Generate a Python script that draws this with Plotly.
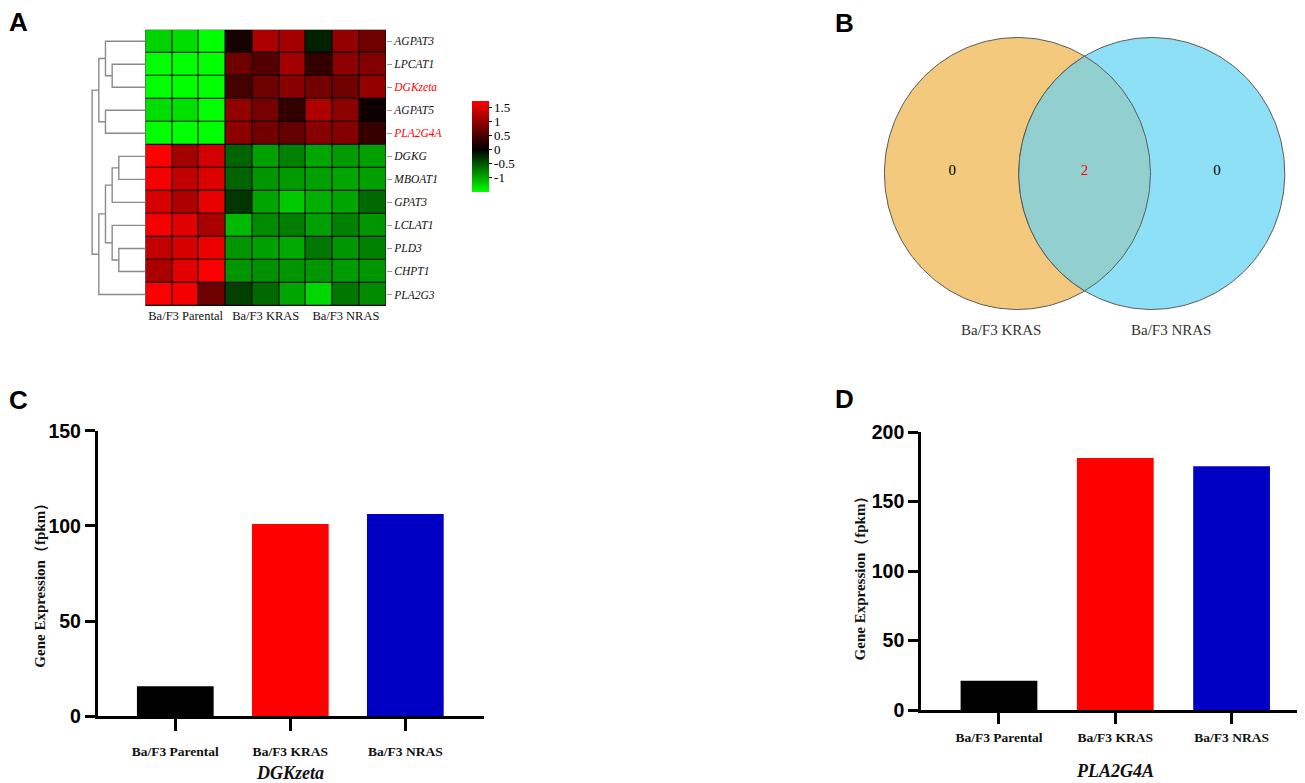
import numpy as np
import plotly.graph_objects as go

# ---------------- DATA ----------------
genes = ["AGPAT3", "LPCAT1", "DGKzeta", "AGPAT5", "PLA2G4A", "DGKG",
         "MBOAT1", "GPAT3", "LCLAT1", "PLD3", "CHPT1", "PLA2G3"]
highlight_genes = ["DGKzeta", "PLA2G4A"]
groups = ["Ba/F3 Parental", "Ba/F3 KRAS", "Ba/F3 NRAS"]
samples = ["P1", "P2", "P3", "K1", "K2", "K3", "N1", "N2", "N3"]

# z-scored expression (rows = genes, cols = samples)
z_AGPAT3 = [-1.24, -1.30, -1.50, 0.15, 1.15, 1.12, -0.20, 1.00, 0.75]
z_LPCAT1 = [-1.50, -1.50, -1.50, 0.75, 0.58, 1.12, 0.34, 0.95, 0.88]
z_DGKzeta = [-1.50, -1.50, -1.50, 0.47, 0.75, 0.92, 0.80, 0.75, 1.00]
z_AGPAT5 = [-1.30, -1.32, -1.50, 1.00, 0.80, 0.33, 1.19, 0.95, 0.10]
z_PLA2G4A = [-1.50, -1.50, -1.50, 0.95, 0.78, 0.68, 0.92, 0.88, 0.37]
z_DGKG = [1.73, 1.12, 1.43, -0.59, -0.94, -0.76, -0.97, -0.91, -0.94]
z_MBOAT1 = [1.66, 1.32, 1.49, -0.59, -0.88, -0.91, -0.94, -0.97, -0.94]
z_GPAT3 = [1.46, 1.19, 1.56, -0.32, -0.97, -1.18, -1.03, -0.97, -0.62]
z_LCLAT1 = [1.66, 1.53, 1.15, -1.09, -0.82, -0.74, -0.94, -0.76, -0.88]
z_PLD3 = [1.32, 1.46, 1.60, -0.88, -0.94, -1.00, -0.70, -0.88, -0.76]
z_CHPT1 = [1.15, 1.53, 1.70, -0.88, -0.85, -0.88, -0.88, -0.91, -0.88]
z_PLA2G3 = [1.70, 1.66, 0.75, -0.38, -0.62, -0.97, -1.26, -0.70, -0.82]
z_matrix = [z_AGPAT3, z_LPCAT1, z_DGKzeta, z_AGPAT5, z_PLA2G4A, z_DGKG,
            z_MBOAT1, z_GPAT3, z_LCLAT1, z_PLD3, z_CHPT1, z_PLA2G3]

# hierarchical clustering of rows: (child a, child b, height); leaves 0..11
linkage = [(1, 2, 5), (0, 12, 6), (3, 4, 6), (13, 14, 7),
           (5, 6, 4), (16, 7, 5), (9, 10, 4), (8, 18, 5),
           (17, 19, 6), (20, 11, 7), (15, 21, 8)]

colorbar_ticks = [-1, -0.5, 0, 0.5, 1, 1.5]
z_min, z_max = -1.5, 1.73

venn_sets = ["Ba/F3 KRAS", "Ba/F3 NRAS"]
venn_counts = [0, 2, 0]  # KRAS only, both, NRAS only

bar_groups = ["Ba/F3 Parental", "Ba/F3 KRAS", "Ba/F3 NRAS"]
dgkzeta_fpkm = [15.8, 101.0, 106.3]
pla2g4a_fpkm = [21.1, 181.3, 175.3]
dgkzeta_yticks = [0, 50, 100, 150]
pla2g4a_yticks = [0, 50, 100, 150, 200]

# ---------------- LAYOUT HELPERS ----------------
W, H = 1305, 783
def PX(x):
    return x / W
def PY(y):
    return 1 - y / H

SERIF = "Liberation Serif"
SANS = "Liberation Sans"

fig = go.Figure()

# ---------------- A: heatmap ----------------
n_rows, n_cols = len(genes), len(samples)
fig.add_trace(go.Heatmap(
    z=z_matrix, x=list(range(n_cols)), y=list(range(n_rows)),
    zmin=z_min, zmax=z_max,
    colorscale=[[0, "#00FF00"], [(0 - z_min) / (z_max - z_min), "#000000"], [1, "#FF0000"]],
    xgap=1, ygap=1, xaxis="x", yaxis="y",
    colorbar=dict(x=PX(464.3), xanchor="left", xpad=0,
                  y=PY(138.4), yanchor="middle", ypad=0,
                  len=(184 - 92.7) / H, lenmode="fraction",
                  thickness=16.7, thicknessmode="pixels", outlinewidth=0,
                  tickvals=colorbar_ticks, ticktext=[("%g" % t) for t in colorbar_ticks],
                  ticks="outside", ticklen=3, tickcolor="#000",
                  tickfont=dict(family=SERIF, size=13, color="#000")),
    hoverinfo="skip",
))
fig.add_shape(type="rect", xref="x", yref="y", x0=-0.5, x1=n_cols - 0.5,
              y0=-0.5, y1=n_rows - 0.5, fillcolor="#000", line=dict(color="#000", width=1),
              layer="below")

# dendrogram
node_y = {i: float(i) for i in range(n_rows)}
node_h = {i: 0.0 for i in range(n_rows)}
dx, dy = [], []
for k, (a, b, h) in enumerate(linkage):
    nid = n_rows + k
    ya, yb = node_y[a], node_y[b]
    dx += [node_h[a], h, h, node_h[b], None]
    dy += [ya, ya, yb, yb, None]
    node_y[nid] = (ya + yb) / 2
    node_h[nid] = h
fig.add_trace(go.Scatter(x=dx, y=dy, mode="lines", xaxis="x2", yaxis="y",
                         line=dict(color="#8a8a8a", width=1.4), hoverinfo="skip",
                         showlegend=False))

gene_ticktext = [('<span style="color:#ff0000">%s</span>' % g) if g in highlight_genes else g
                 for g in genes]

# ---------------- B: venn ----------------
r = 1.0
d = 1.01
cl, cr = -d / 2, d / 2
t = np.linspace(0, 2 * np.pi, 241)
th0 = np.arccos((d / 2) / r)
ta = np.linspace(-th0, th0, 80)
tb = np.linspace(np.pi - th0, np.pi + th0, 80)
lens_x = np.concatenate([cl + r * np.cos(ta), cr + r * np.cos(tb)])
lens_y = np.concatenate([r * np.sin(ta), r * np.sin(tb)])
outline = dict(color="#5a5a5a", width=1)
fig.add_trace(go.Scatter(x=cl + r * np.cos(t), y=r * np.sin(t), fill="toself",
                         fillcolor="#F2C97D", line=outline, mode="lines",
                         xaxis="x3", yaxis="y3", hoverinfo="skip", showlegend=False))
fig.add_trace(go.Scatter(x=cr + r * np.cos(t), y=r * np.sin(t), fill="toself",
                         fillcolor="#8EE0F7", line=outline, mode="lines",
                         xaxis="x3", yaxis="y3", hoverinfo="skip", showlegend=False))
fig.add_trace(go.Scatter(x=lens_x, y=lens_y, fill="toself",
                         fillcolor="#92D0CF", line=outline, mode="lines",
                         xaxis="x3", yaxis="y3", hoverinfo="skip", showlegend=False))
region_x = [cl - 0.49, 0.0, cr + 0.49]
fig.add_trace(go.Scatter(x=region_x, y=[0.02, 0.02, 0.02], mode="text",
                         text=[str(c) for c in venn_counts],
                         textfont=dict(family=SERIF, size=15,
                                       color=["#000", "#ff0000", "#000"]),
                         xaxis="x3", yaxis="y3", hoverinfo="skip", showlegend=False))

annotations = []
def ann(text, x, y, font, **kw):
    d_ = dict(x=PX(x), y=PY(y), xref="paper", yref="paper", text=text, showarrow=False,
              xanchor="center", yanchor="middle", font=font)
    d_.update(kw)
    annotations.append(d_)

for name, sx in zip(venn_sets, [992.5, 1163]):
    ann(name, sx, 321.7, dict(family=SERIF, size=15, color="#333"))

# ---------------- C & D: bars ----------------
bar_colors = ["#000000", "#FF0000", "#0000C4"]
fig.add_trace(go.Bar(x=bar_groups, y=dgkzeta_fpkm, marker=dict(color=bar_colors, line=dict(width=0)),
                     width=0.667, xaxis="x4", yaxis="y4", showlegend=False, hoverinfo="skip"))
fig.add_trace(go.Bar(x=bar_groups, y=pla2g4a_fpkm, marker=dict(color=bar_colors, line=dict(width=0)),
                     width=0.66, xaxis="x5", yaxis="y5", showlegend=False, hoverinfo="skip"))

bar_x_common = dict(showline=True, linewidth=3.3, linecolor="#000", ticks="outside",
                    tickwidth=3.3, tickcolor="#000", showgrid=False, zeroline=False,
                    tickfont=dict(family=SERIF, size=13.5, color="#111", weight="bold"))
bar_y_common = dict(showline=True, linewidth=3.3, linecolor="#000", ticks="outside",
                    ticklen=10, tickwidth=3.3, tickcolor="#000", showgrid=False,
                    zeroline=False,
                    tickfont=dict(family=SANS, size=19.5, color="#000", weight="bold"))

for x, y in [(31.7, 574), (851.7, 566.7)]:
    ann("Gene Expression（fpkm）", x, y,
        dict(family=SERIF, size=15, color="#111", weight="bold"), textangle=-90)
for txt, x, y in [("DGKzeta", 282.3, 764.5), ("PLA2G4A", 1107.3, 762.7)]:
    ann(txt, x, y, dict(family=SERIF, size=18, color="#111", weight="bold", style="italic"))
for txt, x, y in [("A", 10, 14), ("B", 836, 15), ("C", 10, 392), ("D", 836, 391)]:
    ann(txt, x, y, dict(family=SANS, size=26, color="#000", weight="bold"))

noauto = dict(automargin=False)
fig.update_layout(
    width=W, height=H, margin=dict(l=0, r=0, t=0, b=0, autoexpand=False),
    paper_bgcolor="white", plot_bgcolor="white", showlegend=False,
    xaxis=dict(domain=[PX(137.5), PX(378)], range=[-0.5, n_cols - 0.5],
               tickvals=[1, 4, 7], ticktext=groups, ticks="", showgrid=False,
               zeroline=False, showline=False, **noauto,
               tickfont=dict(family=SERIF, size=12.5, color="#111")),
    yaxis=dict(domain=[PY(298), PY(21.7)], range=[n_rows - 0.5, -0.5], side="right",
               tickvals=list(range(n_rows)), ticktext=gene_ticktext, ticks="outside",
               ticklen=5, tickcolor="#999", tickwidth=1, showgrid=False, zeroline=False,
               showline=False, **noauto,
               tickfont=dict(family=SERIF, size=11.5, color="#111", style="italic")),
    xaxis2=dict(domain=[PX(80), PX(137.5)], range=[57.5 / 6.67, 0], visible=False, **noauto),
    xaxis3=dict(domain=[PX(860), PX(1295)], range=[-(1076.6 - 860) / 133, (1295 - 1076.6) / 133],
                visible=False, **noauto),
    yaxis3=dict(domain=[PY(306), PY(25)], range=[-(306 - 165.5) / 136, (165.5 - 25) / 136],
                visible=False, **noauto),
    xaxis4=dict(domain=[PX(90), PX(476)], range=[-0.672, 2.684], anchor="y4",
                ticklen=12, ticklabelstandoff=8, **noauto, **bar_x_common),
    yaxis4=dict(domain=[PY(708.3), PY(422.7)], range=[0, 150], anchor="x4",
                tickvals=dgkzeta_yticks, **noauto, **bar_y_common),
    xaxis5=dict(domain=[PX(913.3), 1.0], range=[-0.668, 2.70], anchor="y5",
                ticklen=11, ticklabelstandoff=2, **noauto, **bar_x_common),
    yaxis5=dict(domain=[PY(702), PY(424)], range=[0, 200], anchor="x5",
                tickvals=pla2g4a_yticks, **noauto, **bar_y_common),
    annotations=annotations,
)

fig.write_html("out.html")
